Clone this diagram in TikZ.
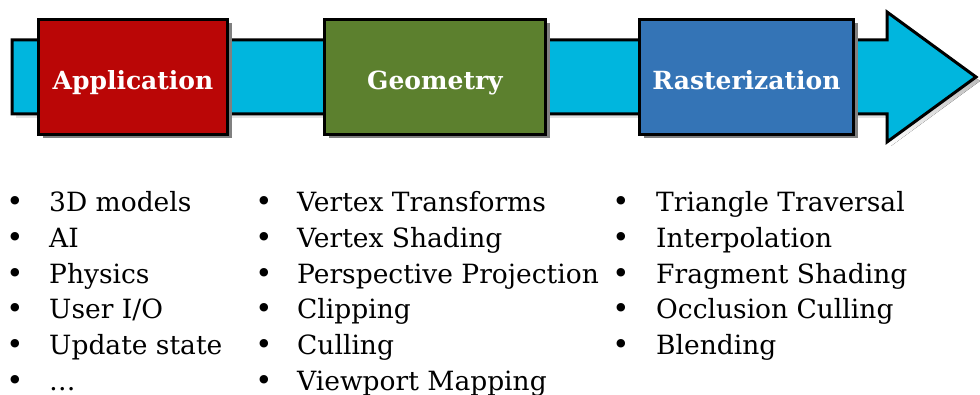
\documentclass[tikz,border=0pt]{standalone}
\usepackage{fontspec}
\setmainfont{DejaVu Serif}
\usetikzlibrary{shadows}
\definecolor{pipecyan}{RGB}{0,182,222}
\definecolor{appred}{RGB}{186,6,6}
\definecolor{geogreen}{RGB}{92,128,46}
\definecolor{rastblue}{RGB}{52,116,182}
\definecolor{shade}{RGB}{128,128,128}
\tikzset{
  stage/.style={draw=black, line width=3pt, minimum height=115pt,
    text=white, font=\fontsize{25}{30}\selectfont\bfseries,
    text height=28pt, text depth=2pt,
    drop shadow={shadow xshift=4pt, shadow yshift=-4pt, fill=shade, opacity=1}},
  entry/.style={anchor=base west, inner sep=0pt, font=\fontsize{26.5}{32}\selectfont},
  bulletmark/.style={anchor=base, inner sep=0pt, font=\fontsize{29}{32}\selectfont},
}
\begin{document}
\begin{tikzpicture}[x=1pt, y=-1pt]
\useasboundingbox (0,0) rectangle (980,395);
% pipeline arrow with its shadow
\begin{scope}[shift={(4,4)}]
  \fill[shade] (12,40) -- (887,40) -- (887,12) -- (976,77) -- (887,142) -- (887,114) -- (12,114) -- cycle;
\end{scope}
\draw[line width=3pt, fill=pipecyan, line join=miter]
  (12,40) -- (887,40) -- (887,12) -- (976,77) -- (887,142) -- (887,114) -- (12,114) -- cycle;
% the three stages
\node[stage, fill=appred,   minimum width=189pt] (app)  at (133,77)   {Application};
\node[stage, fill=geogreen, minimum width=221pt] (geo)  at (435,77)   {Geometry};
\node[stage, fill=rastblue, minimum width=214pt] (rast) at (746.5,77) {Rasterization};
% task lists under each stage
\foreach \t [count=\i] in {3D models, AI, Physics, User I/O, Update state, \ldots} {
  \node[bulletmark] (appb\i) at (15,176.4+35.6*\i) {\textbullet};
  \node[entry] (appt\i) at (49,176.4+35.6*\i) {\t};
}
\foreach \t [count=\i] in {Vertex Transforms, Vertex Shading, Perspective Projection, Clipping, Culling, Viewport Mapping} {
  \node[bulletmark] (geob\i) at (264,176.4+35.6*\i) {\textbullet};
  \node[entry] (geot\i) at (297,176.4+35.6*\i) {\t};
}
\foreach \t [count=\i] in {Triangle Traversal, Interpolation, Fragment Shading, Occlusion Culling, Blending} {
  \node[bulletmark] (rastb\i) at (621,176.4+35.6*\i) {\textbullet};
  \node[entry] (rastt\i) at (656,176.4+35.6*\i) {\t};
}
\end{tikzpicture}
\end{document}
